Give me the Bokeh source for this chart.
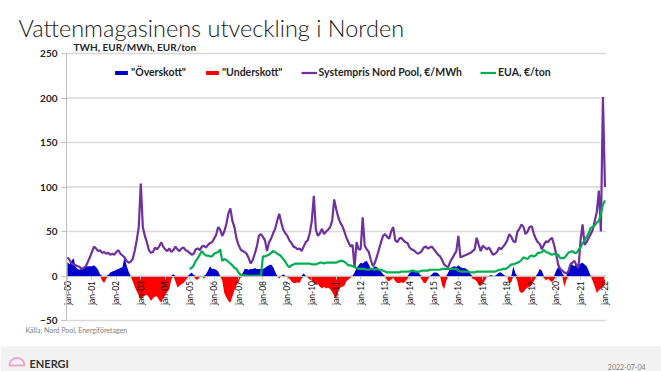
import numpy as np
from bokeh.plotting import figure
from bokeh.models import (Range1d, FixedTicker, Label, BoxAnnotation, PolyAnnotation,
                          Legend, LegendItem)
from bokeh.embed import file_html
from bokeh.resources import INLINE

# ---------------- data (monthly, Jan 2000 .. Jan 2022) ----------------
start_year = 2000
hydro_twh = [
    16, 13, 17, 20, 10, 8, 7, 9, 10, 11, 11, 11,            # 2000
    11, 12, 10, 7, 2, -5, -8, -3, 1, 4, 5, 6,               # 2001
    7, 8, 9, 10, 21, 12, 5, 0, -6, -12, -17, -22,           # 2002
    -26, -24, -22, -21, -24, -28, -25, -23, -23, -27, -30, -25,  # 2003
    -21, -18, -15, -4, 2, -6, -13, -11, -9, -8, -5, -2,     # 2004
    2, 4, 1, -4, -4, -1, 0, -3, 2, 6, 11, 8,                # 2005
    8, 7, 5, 0, -5, -19, -24, -28, -30, -23, -16, -10,      # 2006
    -7, -2, 3, 8, 8, 7, 8, 8, 9, 8, 8, 8,                   # 2007
    8, 9, 11, 12, 13, 10, 5, 0, -3, 0, 2, 0,                # 2008
    -2, -3, -6, -8, -8, -7, -8, -3, 3, 0, -2, -4,           # 2009
    -5, -8, -10, -9, -12, -14, -12, -14, -13, -15, -18, -22,  # 2010
    -25, -18, -13, -12, -11, -6, -4, -2, 0, 4, 9, 12,       # 2011
    15, 14, 16, 17, 13, 8, 9, 11, 10, 7, 5, 2,              # 2012
    0, -5, -6, -4, -2, -6, -8, -8, -7, -8, -6, -3,          # 2013
    3, 5, 6, 6, 5, 2, -4, -8, -8, -4, 0, 2,                 # 2014
    4, 4, 3, 0, -10, -15, -6, 4, 9, 10, 11, 10,             # 2015
    12, 10, 9, 9, 8, 6, 2, -3, -4, -6, -10, -11,            # 2016
    -9, -5, -1, 0, 1, 0, 0, 2, 4, 4, 2, 0,                  # 2017
    -2, -8, -7, 11, 3, -6, -17, -19, -18, -15, -13, -12,    # 2018
    -10, -6, -2, 3, 8, 6, -2, -5, -3, -5, -7, -4,           # 2019
    6, 10, 9, 3, -12, -5, 8, 12, 13, 11, 14, 12,            # 2020
    14, 15, 13, 11, 6, 0, -6, -12, -19, -16, -14, -12,      # 2021
    -10,                                                    # 2022
]
system_price = [
    21, 18, 14, 13, 12, 11, 10, 8, 9, 11, 16, 21,           # 2000
    27, 33, 31, 28, 29, 26, 27, 25, 26, 24, 25, 24,         # 2001
    27, 29, 25, 23, 21, 17, 15, 16, 19, 28, 40, 55,         # 2002
    104, 55, 45, 38, 29, 26, 27, 32, 30, 33, 38, 33,        # 2003
    30, 28, 31, 27, 29, 33, 30, 28, 31, 32, 29, 28,         # 2004
    26, 24, 25, 30, 31, 29, 33, 34, 32, 35, 37, 38,         # 2005
    42, 46, 55, 52, 45, 50, 58, 70, 76, 62, 55, 42,         # 2006
    35, 30, 28, 27, 25, 20, 14, 18, 25, 33, 45, 47,         # 2007
    44, 40, 28, 38, 42, 48, 53, 62, 70, 60, 52, 48,         # 2008
    45, 40, 37, 33, 32, 30, 31, 28, 33, 38, 40, 48,         # 2009
    62, 90, 52, 45, 48, 53, 47, 50, 52, 55, 62, 86,         # 2010
    75, 66, 60, 56, 50, 43, 38, 33, 35, 10, 38, 30,         # 2011
    30, 66, 34, 30, 27, 18, 11, 15, 22, 30, 38, 45,         # 2012
    47, 44, 42, 50, 55, 40, 38, 42, 43, 40, 38, 37,         # 2013
    32, 30, 29, 27, 25, 26, 28, 32, 33, 31, 32, 33,         # 2014
    30, 27, 24, 22, 18, 13, 11, 10, 16, 20, 24, 28,         # 2015
    45, 21, 22, 23, 24, 25, 26, 28, 30, 43, 35, 28,         # 2016
    34, 32, 30, 32, 28, 24, 25, 27, 32, 30, 33, 36,         # 2017
    40, 47, 44, 39, 38, 50, 53, 58, 55, 47, 50, 55,         # 2018
    56, 48, 42, 38, 36, 30, 35, 39, 38, 41, 43, 35,         # 2019
    25, 13, 8, 6, 4, 3, 5, 13, 15, 17, 12, 9,               # 2020
    40, 58, 35, 38, 43, 47, 52, 62, 72, 96, 50, 201,        # 2021
    100,                                                    # 2022
]
eua_start_year = 2005
eua_price = [
    8, 9, 12, 17, 20, 24, 28, 25, 23, 23, 22, 22,           # 2005
    25, 26, 27, 30, 17, 19, 18, 16, 14, 12, 9, 8,           # 2006
    4, 1.5, 1, 0.6, 0.4, 0.2, 0.1, 0.1, 0.1, 0.1, 0.05, 0.03,  # 2007
    22, 22, 23, 24, 26, 28, 27, 25, 24, 22, 19, 16,         # 2008
    12, 10, 12, 13, 14, 14, 14, 14, 14, 14, 14, 14,         # 2009
    13, 13, 13, 14, 15, 15, 14, 15, 15, 15, 15, 15,         # 2010
    15, 16, 17, 17, 16, 14, 12, 12, 11, 10, 9, 8,           # 2011
    8, 8, 8, 7, 7, 8, 8, 7, 8, 7, 7, 6,                     # 2012
    5, 4, 4, 4, 4, 4, 4, 4, 5, 5, 5, 5,                     # 2013
    5, 6, 6, 5, 5, 5, 6, 6, 6, 6, 7, 7,                     # 2014
    7, 7, 7, 7, 8, 8, 8, 8, 8, 8, 8, 8,                     # 2015
    6, 5, 5, 5, 5, 5, 4, 4, 4, 5, 5, 5,                     # 2016
    5, 5, 5, 5, 5, 5, 5, 6, 7, 7, 8, 8,                     # 2017
    9, 11, 13, 13, 14, 15, 16, 18, 21, 20, 19, 22,          # 2018
    23, 22, 23, 26, 26, 27, 29, 27, 26, 25, 24, 25,         # 2019
    24, 24, 20, 20, 20, 23, 26, 27, 28, 26, 26, 29,         # 2020
    32, 37, 40, 44, 48, 54, 55, 57, 60, 62, 70, 80,         # 2021
    85,                                                     # 2022
]
tick_years = list(range(2000, 2023))
tick_labels = ["jan-00", "jan-01", "jan-02", "jan-03", "jan-04", "jan-05", "jan-06",
               "jan-07", "jan-08", "jan-09", "jan-10", "jan-11", "jan-12", "jan-13",
               "jan-14", "jan-15", "jan-16", "jan-17", "jan-18", "jan-19", "jan-20",
               "jan-21", "jan-22"]
y_ticks = [-50, 0, 50, 100, 150, 200, 250]

# ---------------- derived arrays ----------------
x = start_year + np.arange(len(system_price)) / 12.0
hydro = np.array(hydro_twh, dtype=float)
surplus = np.maximum(hydro, 0)
deficit = np.minimum(hydro, 0)
eua = np.full(len(x), np.nan)
off = (eua_start_year - start_year) * 12
eua[off:off + len(eua_price)] = eua_price

# ---------------- geometry ----------------
W, H = 661, 371
PX_YEAR = 24.43          # pixels per year
PX_UNIT = 0.89           # pixels per unit on the value axis
X0_PX, Y0_PX = 67, 275.5  # pixel position of jan-00 and of the zero line
x_left, x_right = 2000 - 1 / PX_YEAR, 2022 + 1 / PX_YEAR

FONT = "Lato"
p = figure(width=W, height=H, output_backend="svg", toolbar_location=None,
           x_range=Range1d(2000 - X0_PX / PX_YEAR, 2000 + (W - X0_PX) / PX_YEAR),
           y_range=Range1d(-(H - Y0_PX) / PX_UNIT, Y0_PX / PX_UNIT),
           min_border_left=0, min_border_right=0, min_border_top=0, min_border_bottom=0)
p.outline_line_color = None
p.background_fill_color = "white"
p.border_fill_color = "white"
p.xgrid.visible = False
p.ygrid.visible = False

# footer band
p.add_layout(BoxAnnotation(left=0, right=W, bottom=0, top=H - 346,
                           left_units="screen", right_units="screen",
                           bottom_units="screen", top_units="screen",
                           fill_color="#f2f2f2", fill_alpha=1, line_color=None,
                           level="underlay"))

# gridlines
p.segment(x0=x_left, x1=x_right, y0=y_ticks, y1=y_ticks, line_color="#d9d9d9",
          line_width=1.5)

r_pos = p.varea(x=x, y1=0, y2=surplus, fill_color="#0000cc")
r_neg = p.varea(x=x, y1=0, y2=deficit, fill_color="#ff0000")
r_price = p.line(x, system_price, line_color="#7030a0", line_width=2.2)
r_eua = p.line(x, eua, line_color="#00b050", line_width=2.2)

# y axis (fixed at the left edge of the plot area)
ya = p.yaxis[0]
ya.fixed_location = x_left
ya.bounds = (-50, 250)
ya.ticker = FixedTicker(ticks=y_ticks)
ya.major_label_text_font = FONT
ya.major_label_text_font_style = "bold"
ya.major_label_text_font_size = "10px"
ya.major_label_text_color = "#262626"
ya.axis_line_color = "#bfbfbf"
ya.major_tick_line_color = "#bfbfbf"
ya.major_tick_out = 5
ya.major_tick_in = 0
ya.minor_tick_line_color = None
ya.major_label_standoff = 4

# x axis crossing at zero
xa = p.xaxis[0]
xa.fixed_location = 0
xa.bounds = (x_left, x_right)
xa.ticker = FixedTicker(ticks=tick_years)
xa.major_label_overrides = {yr: lab for yr, lab in zip(tick_years, tick_labels)}
xa.major_label_orientation = np.pi / 2
xa.major_label_text_font = FONT
xa.major_label_text_font_size = "8.5px"
xa.major_label_text_color = "#111111"
xa.axis_line_color = "#bfbfbf"
xa.major_tick_line_color = "#bfbfbf"
xa.major_tick_out = 3
xa.major_tick_in = 0
xa.minor_tick_line_color = None
xa.major_label_standoff = 2

# legend
legend = Legend(items=[
    LegendItem(label='"Överskott"', renderers=[r_pos]),
    LegendItem(label='"Underskott"', renderers=[r_neg]),
    LegendItem(label="Systempris Nord Pool, €/MWh", renderers=[r_price]),
    LegendItem(label="EUA, €/ton", renderers=[r_eua]),
], orientation="horizontal", location=(113, H - 78), padding=0, margin=0, spacing=18,
    glyph_width=16, glyph_height=5, label_standoff=2, label_height=10,
    label_text_font=FONT, label_text_font_style="bold", label_text_font_size="10.5px",
    label_text_color="#262626", border_line_color=None, background_fill_alpha=0)
p.add_layout(legend, "center")


def lab(text, px, py, size, color="#262626", style="normal", font=FONT, align="left",
        baseline="middle"):
    """Text placed at page pixel (px, py)."""
    p.add_layout(Label(x=px, y=H - py, x_units="screen", y_units="screen", text=text,
                       text_font=font, text_font_size=size, text_color=color,
                       text_font_style=style, text_align=align, text_baseline=baseline))


lab("Vattenmagasinens utveckling i Norden", 18, 27, "23.5px", color="#1a1a1a",
    font="Lato Light", baseline="alphabetic")
lab("TWH, EUR/MWh, EUR/ton", 73, 46, "10px", style="bold")
lab("Källa: Nord Pool, Energiföretagen", 25, 329, "7px", color="#808080")
lab("ENERGI", 29, 363, "11px", style="bold", color="#333333")
lab("2022-07-04", 645, 366, "7px", color="#808080", align="right")

t = np.linspace(0, np.pi, 20)
p.add_layout(PolyAnnotation(xs=list(16.5 + 7.5 * np.cos(t)), ys=list(H - 365 + 7.5 * np.sin(t)),
                            xs_units="screen", ys_units="screen",
                            fill_alpha=0, line_color="#e6007e", line_width=2))

open("out.html", "w").write(file_html(p, INLINE))
